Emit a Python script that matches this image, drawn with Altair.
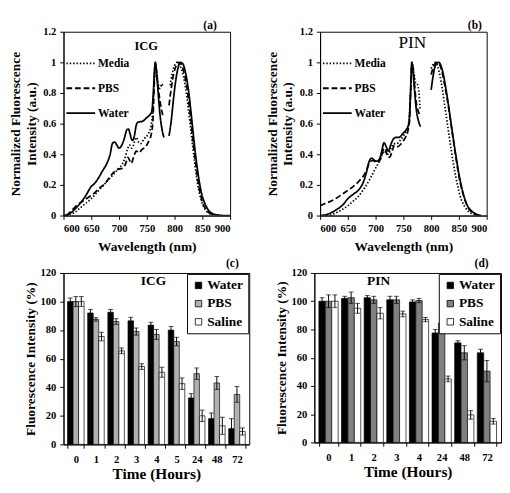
import altair as alt
import pandas as pd

FONT = "Liberation Serif"

# ---------------- Panel (a): ICG spectra ----------------
ICG_WATER_WL_1 = [600, 610, 620, 630, 640, 650, 656, 662, 670, 678, 684, 688, 692, 696, 700, 705, 710, 714, 717, 720, 724, 727, 731, 734, 742, 750, 756, 759, 762, 764, 765.5, 767, 770, 774, 778, 781]
ICG_WATER_I_1 = [0.0, 0.01, 0.04, 0.08, 0.13, 0.19, 0.21, 0.24, 0.29, 0.34, 0.40, 0.47, 0.48, 0.46, 0.44, 0.46, 0.51, 0.56, 0.565, 0.53, 0.49, 0.51, 0.59, 0.61, 0.615, 0.64, 0.66, 0.68, 0.82, 0.96, 1.0, 0.96, 0.82, 0.65, 0.55, 0.51]
ICG_WATER_WL_2 = [790, 794, 798, 802, 806, 810, 814, 818, 822, 826, 830, 834, 838, 842, 846, 850, 855, 860, 865, 870, 880, 890, 900]
ICG_WATER_I_2 = [0.52, 0.62, 0.76, 0.88, 0.96, 1.0, 0.995, 0.96, 0.89, 0.79, 0.66, 0.52, 0.39, 0.28, 0.19, 0.125, 0.075, 0.04, 0.02, 0.01, 0.003, 0.0, 0.0]

ICG_MEDIA_WL_1 = [605, 612, 620, 630, 640, 650, 660, 670, 680, 690, 700, 705, 710, 715, 719, 723, 726, 731, 735, 739, 745, 752, 758, 761, 763, 765.5, 768, 771, 774, 777, 779]
ICG_MEDIA_I_1 = [0.0, 0.01, 0.02, 0.05, 0.08, 0.11, 0.15, 0.19, 0.23, 0.27, 0.31, 0.33, 0.37, 0.43, 0.46, 0.44, 0.46, 0.51, 0.48, 0.47, 0.50, 0.53, 0.59, 0.70, 0.85, 1.0, 0.92, 0.85, 0.83, 0.86, 0.84]
ICG_MEDIA_WL_2 = [792, 796, 800, 804, 808, 812, 816, 820, 824, 828, 832, 836, 840, 844, 848, 852, 856, 860, 866, 872]
ICG_MEDIA_I_2 = [0.85, 0.93, 0.98, 1.0, 0.99, 0.96, 0.91, 0.83, 0.72, 0.60, 0.47, 0.35, 0.24, 0.16, 0.10, 0.06, 0.035, 0.02, 0.01, 0.0]

ICG_PBS_WL_1 = [605, 614, 625, 635, 645, 655, 665, 675, 682, 690, 696, 702, 707, 712, 716, 719, 722, 726, 731, 736, 741, 748, 754, 758, 761, 763, 765.5, 768, 771, 775, 779]
ICG_PBS_I_1 = [0.0, 0.03, 0.07, 0.095, 0.12, 0.145, 0.18, 0.21, 0.245, 0.28, 0.30, 0.305, 0.31, 0.34, 0.38, 0.36, 0.34, 0.38, 0.42, 0.41, 0.43, 0.45, 0.49, 0.53, 0.62, 0.82, 0.99, 0.92, 0.82, 0.72, 0.65]
ICG_PBS_WL_2 = [790, 794, 798, 802, 806, 810, 814, 818, 822, 826, 830, 834, 838, 842, 846, 850, 854, 858, 864, 870]
ICG_PBS_I_2 = [0.72, 0.83, 0.92, 0.97, 1.0, 0.995, 0.97, 0.92, 0.84, 0.73, 0.60, 0.46, 0.34, 0.23, 0.15, 0.09, 0.055, 0.03, 0.015, 0.0]

# ---------------- Panel (b): PIN spectra ----------------
PIN_WATER_WL_1 = [601, 610, 618, 630, 641, 650, 660, 670, 678, 684, 688, 693, 698, 702, 707, 711, 715, 719, 723, 727, 732, 737, 742, 750, 756, 760, 762, 764, 765, 767, 770, 773, 777, 781]
PIN_WATER_I_1 = [0.0, 0.005, 0.015, 0.04, 0.07, 0.11, 0.14, 0.17, 0.22, 0.29, 0.35, 0.375, 0.36, 0.355, 0.37, 0.42, 0.475, 0.45, 0.42, 0.46, 0.50, 0.51, 0.51, 0.54, 0.565, 0.60, 0.72, 0.92, 1.0, 0.95, 0.82, 0.70, 0.62, 0.58]
PIN_WATER_WL_2 = [800, 803, 806, 810, 814, 818, 822, 826, 830, 834, 838, 842, 846, 850, 854, 858, 862, 866, 870, 876, 882, 890]
PIN_WATER_I_2 = [0.82, 0.90, 0.96, 0.995, 1.0, 0.975, 0.92, 0.84, 0.75, 0.65, 0.55, 0.45, 0.36, 0.27, 0.20, 0.14, 0.095, 0.06, 0.04, 0.02, 0.008, 0.0]

PIN_MEDIA_WL_1 = [612, 620, 630, 640, 650, 660, 670, 680, 690, 700, 706, 711, 715, 719, 723, 728, 733, 738, 744, 750, 756, 760, 763, 766, 769, 772, 775, 778, 780]
PIN_MEDIA_I_1 = [0.0, 0.005, 0.02, 0.04, 0.065, 0.095, 0.13, 0.18, 0.24, 0.31, 0.35, 0.39, 0.42, 0.41, 0.40, 0.44, 0.47, 0.47, 0.49, 0.52, 0.56, 0.62, 0.80, 1.0, 0.93, 0.87, 0.86, 0.80, 0.70]
PIN_MEDIA_WL_2 = [800, 804, 808, 812, 816, 820, 824, 828, 832, 836, 840, 844, 848, 852, 856, 860, 865, 870, 878, 885]
PIN_MEDIA_I_2 = [0.96, 0.99, 1.0, 0.97, 0.91, 0.83, 0.73, 0.63, 0.53, 0.43, 0.34, 0.26, 0.19, 0.13, 0.09, 0.06, 0.035, 0.02, 0.005, 0.0]

PIN_PBS_WL_1 = [600, 610, 620, 630, 640, 650, 660, 670, 680, 686, 690, 695, 700, 705, 710, 714, 717, 721, 725, 729, 734, 740, 746, 752, 758, 761, 763, 765, 767, 770, 773, 777, 780]
PIN_PBS_I_1 = [0.065, 0.08, 0.095, 0.115, 0.14, 0.165, 0.19, 0.225, 0.27, 0.32, 0.35, 0.36, 0.35, 0.35, 0.38, 0.43, 0.44, 0.39, 0.38, 0.41, 0.46, 0.45, 0.47, 0.50, 0.55, 0.62, 0.80, 0.98, 0.97, 0.86, 0.74, 0.68, 0.65]
PIN_PBS_WL_2 = [800, 804, 808, 812, 816, 820, 824, 828, 832, 836, 840, 844, 848, 852, 856, 860, 864, 868, 874, 882, 890]
PIN_PBS_I_2 = [0.92, 0.97, 0.995, 1.0, 0.98, 0.93, 0.86, 0.78, 0.69, 0.59, 0.49, 0.39, 0.30, 0.22, 0.16, 0.11, 0.07, 0.045, 0.02, 0.005, 0.0]

SPECTRA_SERIES = ["Media", "PBS", "Water"]
SPECTRA_DASHES = [[1.5, 2], [6, 3], [1, 0]]
WL_TICKS = [600, 650, 700, 750, 800, 850, 900]
INT_TICKS = [0, 0.2, 0.4, 0.6, 0.8, 1.0, 1.2]

# ---------------- Panels (c), (d): bars ----------------
BAR_SERIES = ["Water", "PBS", "Saline"]
TIMES_C = ["0", "1", "2", "3", "4", "5", "24", "48", "72"]
WATER_C = [100, 92, 92.5, 86.5, 83.5, 80, 32.5, 18, 11]
WATER_C_ERR = [2.5, 2.5, 2, 2.5, 2, 2.5, 3, 4, 7]
PBS_C = [100, 87.5, 86, 79, 77, 72, 49.5, 43, 35]
PBS_C_ERR = [3.5, 1.2, 2, 2.5, 3.5, 3, 4, 4.5, 5.5]
SALINE_C = [100, 75.5, 65.5, 54.5, 50.5, 42.5, 20, 13, 9]
SALINE_C_ERR = [3.5, 3, 2, 2, 3.5, 4, 4, 6, 2.5]

TIMES_D = ["0", "1", "2", "3", "4", "24", "48", "72"]
WATER_D = [100, 102, 102.5, 101, 99.5, 77.5, 70.5, 63.5]
WATER_D_ERR = [2.5, 1.5, 1.5, 2.5, 1.5, 2.5, 1.5, 2.5]
PBS_D = [100, 102.5, 101, 101, 100.5, 84.5, 63.5, 50.5]
PBS_D_ERR = [4.5, 4, 2.5, 2.5, 1.5, 2, 5, 7.5]
SALINE_D = [100, 95, 91.5, 91, 87, 45, 19.5, 15]
SALINE_D_ERR = [4.5, 3.5, 4, 2, 1.5, 2, 3, 2]
Y_TICKS_BAR = [0, 20, 40, 60, 80, 100, 120]


def panel_tag(text, px, py):
    return alt.Chart(pd.DataFrame({"tag": [text]})).mark_text(
        font=FONT, fontSize=12, fontWeight="bold", color="black", align="right", baseline="middle"
    ).encode(x=alt.value(px), y=alt.value(py), text="tag:N")


def spectra_df(parts):
    rows = []
    for series, seg, wl, val in parts:
        for w, v in zip(wl, val):
            rows.append({"series": series, "seg": f"{series}-{seg}", "wl": w, "v": v})
    return pd.DataFrame(rows)


def spectra_panel(df, label, label_dx, name, name_wl, name_v, name_size, name_weight, width, height):
    x = alt.X("wl:Q", scale=alt.Scale(domain=[600, 900], nice=False, zero=False),
              axis=alt.Axis(values=WL_TICKS, tickCount=len(WL_TICKS), title="Wavelength (nm)",
                            titlePadding=6, labelOverlap=False))
    y = alt.Y("v:Q", scale=alt.Scale(domain=[0, 1.2], nice=False),
              axis=alt.Axis(values=INT_TICKS, tickCount=len(INT_TICKS), format="~g", labelOverlap=False,
                            title=["Normalized Fluorescence", "Intensity (a.u.)"], titlePadding=5))
    lines = alt.Chart(df).mark_line(color="black", strokeWidth=1.8, interpolate="monotone", clip=True).encode(
        x=x, y=y,
        strokeDash=alt.StrokeDash(
            "series:N",
            scale=alt.Scale(domain=SPECTRA_SERIES, range=SPECTRA_DASHES),
            legend=alt.Legend(orient="none", legendX=2, legendY=17, title=None, symbolType="stroke",
                              symbolSize=900, symbolStrokeWidth=2, symbolStrokeColor="black",
                              labelFontSize=12, rowPadding=4, labelOffset=2),
        ),
        detail="seg:N",
    )
    ann = alt.Chart(pd.DataFrame({"wl": [name_wl], "v": [name_v], "t": [name]})).mark_text(
        font=FONT, fontSize=name_size, fontWeight=name_weight, color="black"
    ).encode(x=alt.X("wl:Q"), y=alt.Y("v:Q"), text="t:N")
    tag = panel_tag(label, width + label_dx, -7)
    return alt.layer(lines, ann, tag).properties(width=width, height=height)


def bar_df(times, water, water_err, pbs, pbs_err, saline, saline_err):
    rows = []
    for series, vals, errs in (("Water", water, water_err), ("PBS", pbs, pbs_err), ("Saline", saline, saline_err)):
        for t, v, e in zip(times, vals, errs):
            rows.append({"t": t, "series": series, "v": v, "lo": v - e, "hi": v + e})
    return pd.DataFrame(rows)


def bar_panel(df, times, pbs_color, label, label_dx, name, name_t, name_dx, width, height, pad_inner):
    ytitle = "Fluorescence Intensity (%)"
    x = alt.X("t:N", sort=times, scale=alt.Scale(domain=times, paddingInner=pad_inner, paddingOuter=0.2),
              axis=alt.Axis(title="Time (Hours)", labelAngle=0, tickBand="extent", labelPadding=6,
                            titlePadding=2, titleFontSize=16, labelOverlap=False))
    xo = alt.XOffset("series:N", sort=BAR_SERIES, scale=alt.Scale(domain=BAR_SERIES))
    yscale = alt.Scale(domain=[0, 120], nice=False)
    yaxis = alt.Axis(values=Y_TICKS_BAR, tickCount=len(Y_TICKS_BAR), titlePadding=3, labelOverlap=False)
    base = alt.Chart(df)
    bars = base.mark_bar(stroke="black", strokeWidth=0.7).encode(
        x=x, xOffset=xo,
        y=alt.Y("v:Q", scale=yscale, axis=yaxis, title=ytitle),
        fill=alt.Fill("series:N", scale=alt.Scale(domain=BAR_SERIES, range=["black", pbs_color, "white"]),
                      legend=alt.Legend(orient="top-right", offset=1, title=None, symbolType="square",
                                        symbolSize=45, symbolStrokeColor="black", symbolStrokeWidth=0.8,
                                        labelFontSize=14, rowPadding=5, labelOffset=2, padding=5,
                                        strokeColor="black", fillColor="white")),
    )
    rules = base.mark_rule(color="black", strokeWidth=1).encode(
        x=x, xOffset=xo, y=alt.Y("lo:Q", scale=yscale, title=ytitle), y2="hi:Q")
    cap_lo = base.mark_tick(color="black", size=5, thickness=1).encode(
        x=x, xOffset=xo, y=alt.Y("lo:Q", scale=yscale, title=ytitle))
    cap_hi = base.mark_tick(color="black", size=5, thickness=1).encode(
        x=x, xOffset=xo, y=alt.Y("hi:Q", scale=yscale, title=ytitle))
    ann = alt.Chart(pd.DataFrame({"t": [name_t], "v": [114], "name": [name]})).mark_text(
        font=FONT, fontSize=14, fontWeight="bold", color="black", dx=name_dx
    ).encode(x=alt.X("t:N", sort=times, title="Time (Hours)"), y=alt.Y("v:Q", title=ytitle), text="name:N")
    tag = panel_tag(label, width + label_dx, -10)
    return alt.layer(bars, rules, cap_lo, cap_hi, ann, tag).properties(width=width, height=height)


df_a = spectra_df([
    ("Media", 1, ICG_MEDIA_WL_1, ICG_MEDIA_I_1), ("Media", 2, ICG_MEDIA_WL_2, ICG_MEDIA_I_2),
    ("PBS", 1, ICG_PBS_WL_1, ICG_PBS_I_1), ("PBS", 2, ICG_PBS_WL_2, ICG_PBS_I_2),
    ("Water", 1, ICG_WATER_WL_1, ICG_WATER_I_1), ("Water", 2, ICG_WATER_WL_2, ICG_WATER_I_2),
])
df_b = spectra_df([
    ("Media", 1, PIN_MEDIA_WL_1, PIN_MEDIA_I_1), ("Media", 2, PIN_MEDIA_WL_2, PIN_MEDIA_I_2),
    ("PBS", 1, PIN_PBS_WL_1, PIN_PBS_I_1), ("PBS", 2, PIN_PBS_WL_2, PIN_PBS_I_2),
    ("Water", 1, PIN_WATER_WL_1, PIN_WATER_I_1), ("Water", 2, PIN_WATER_WL_2, PIN_WATER_I_2),
])
df_c = bar_df(TIMES_C, WATER_C, WATER_C_ERR, PBS_C, PBS_C_ERR, SALINE_C, SALINE_C_ERR)
df_d = bar_df(TIMES_D, WATER_D, WATER_D_ERR, PBS_D, PBS_D_ERR, SALINE_D, SALINE_D_ERR)

panel_a = spectra_panel(df_a, "(a)", -14, "ICG", 749, 1.106, 13, "bold", 174, 192)
panel_b = spectra_panel(df_b, "(b)", -5, "PIN", 766, 1.125, 18, "normal", 174, 192)
panel_c = bar_panel(df_c, TIMES_C, "#b0b0b0", "(c)", -11, "ICG", "4", -3, 194, 179, 0.18)
panel_d = bar_panel(df_d, TIMES_D, "#808080", "(d)", -13, "PIN", "2", 5, 195, 177, 0.15)

IND = dict(x="independent", y="independent", strokeDash="independent", fill="independent",
           xOffset="independent")
top = alt.hconcat(panel_a, panel_b, spacing=35).resolve_scale(**IND).resolve_legend(
    strokeDash="independent", fill="independent")
bottom = alt.hconcat(panel_c, panel_d, spacing=25).resolve_scale(**IND).resolve_legend(
    strokeDash="independent", fill="independent")

chart = alt.vconcat(top, bottom, spacing=3).resolve_scale(**IND).resolve_legend(
    strokeDash="independent", fill="independent"
).properties(
    padding=0, background="white"
).configure_axis(
    labelFont=FONT, labelFontWeight="bold", labelFontSize=11, labelColor="black",
    titleFont=FONT, titleFontWeight="bold", titleFontSize=14, titleColor="black",
    domainColor="black", tickColor="black", tickSize=4, grid=False, labelPadding=4,
    labelOverlap=False,
).configure_view(
    stroke="black", strokeWidth=1
).configure_legend(
    labelFont=FONT, labelFontWeight="bold", labelColor="black",
)

chart.save("out.html", embed_options={"renderer": "svg", "actions": False})
